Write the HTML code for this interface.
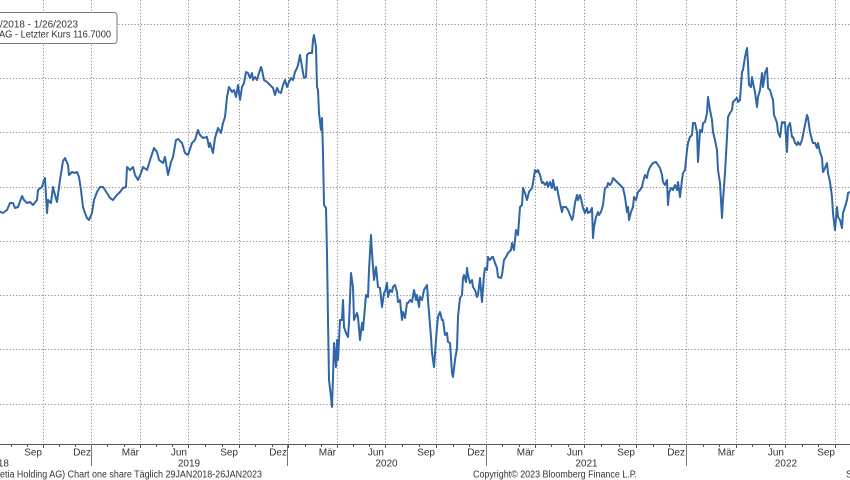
<!DOCTYPE html>
<html>
<head>
<meta charset="utf-8">
<style>
  html,body{margin:0;padding:0;background:#fff;}
  svg{display:block;}
  text{font-family:"Liberation Sans","DejaVu Sans",sans-serif;fill:#333;}
</style>
</head>
<body>
<svg width="850" height="480" viewBox="0 0 850 480" xmlns="http://www.w3.org/2000/svg">
  <rect x="0" y="0" width="850" height="480" fill="#fff"/>
  <g stroke="#8a8a8a" stroke-width="1" stroke-dasharray="1.2,2" fill="none">
    <path d="M0 24.5H850M0 78.5H850M0 132.5H850M0 187.5H850M0 241.5H850M0 295.5H850M0 349.5H850M0 404.5H850"/>
    <path d="M43.5 0V444M91.5 0V444M140.5 0V444M188.5 0V444M239.5 0V444M288.5 0V444M337.5 0V444M385.5 0V444M436.5 0V444M486.5 0V444M535.5 0V444M584.5 0V444M636.5 0V444M686.5 0V444M736.5 0V444M785.5 0V444M835.5 0V444"/>
  </g>

  <polyline fill="none" stroke="#2f66a5" stroke-width="2" stroke-linejoin="round" stroke-linecap="round" points="-2,212 0,211.7 3,213 7,210 10,203 13,203 15,208 18,207 22,196 24,200 27,203 30,202 33,205 37,200 38,190 42,187 44,180 45,178 47,213 48,200 51,203 53,187 55,195 57,202 60,180 63,161 65,158 68,165 69,175 72,172 75,173 77,172 79,177 81,190 83,207 85,213 87,218 89,220 92,213 94,200 97,192 100,187 103,187 107,193 110,198 113,200 116,196 120,192 123,188 126,187 127,167 130,170 133,167 135,175 138,180 141,173 143,167 147,170 151,157 154,148 157,152 159,160 163,163 165,157 168,175 171,162 173,157 176,140 178,139 182,143 185,153 188,155 192,143 195,140 198,130 200,135 203,138 207,137 209,147 210,143 213,153 215,138 218,128 221,133 223,123 225,117 227,97 229,87 232,92 234,90 236,97 238,85 240,100 242,87 244,83 246,72 248,73 250,78 252,73 253,80 255,77 257,80 259,73 261,67 262,70 264,80 267,82 270,85 273,88 275,95 277,88 279,92 281,93 283,85 285,80 287,87 289,82 291,78 293,80 295,72 297,68 298,65 300,55 302,67 304,78 306,77 307,55 309,53 312,53 313,40 314,35 316,47 317,87 318,90 319,113 321,130 322,118 323,153 324,205 326,208 327,253 328,320 329,380 331,397 332,407 333,377 334,343 336,367 337,340 338,360 340,320 342,320 343,300 344,327 346,333 348,337 349,323 351,273 353,287 354,320 357,313 358,317 360,340 362,323 363,330 366,295 368,297 369,270 371,235 372,253 374,280 376,267 378,287 380,288 382,307 384,293 385,292 387,283 388,297 390,290 392,292 393,287 395,285 397,292 398,302 400,300 402,320 403,312 405,318 407,303 408,303 410,300 412,302 414,290 416,300 417,295 419,307 420,297 422,300 424,290 427,285 428,300 431,337 432,353 434,367 436,340 437,327 438,317 440,312 442,320 443,320 445,335 447,333 448,342 450,343 452,373 453,377 455,360 457,348 458,317 460,298 462,295 463,278 464,275 466,282 467,268 468,275 470,283 472,280 473,287 475,290 477,297 478,295 480,278 482,302 484,275 485,268 487,270 488,257 490,260 492,257 493,257 495,263 497,268 498,277 501,278 502,275 504,260 506,257 508,253 511,250 512,243 514,250 516,230 518,235 520,207 522,205 523,188 525,193 527,200 529,192 532,188 533,183 535,170 537,172 538,170 540,175 542,183 543,182 545,185 547,182 548,187 550,182 552,188 553,180 555,190 557,187 558,193 560,203 562,212 563,207 566,207 568,210 570,215 572,220 573,217 575,203 577,195 578,200 580,195 582,203 583,208 585,213 587,208 588,213 590,212 592,208 593,238 594,227 596,217 598,212 599,215 601,212 603,205 605,188 607,187 608,183 610,185 612,182 613,178 615,180 617,182 620,185 623,188 625,197 627,212 628,207 629,220 631,212 633,207 634,197 636,200 638,192 640,190 642,187 643,182 645,175 647,178 648,172 650,167 653,163 656,162 658,165 660,168 662,175 663,182 665,185 667,180 668,205 669,193 671,188 673,190 675,185 677,190 678,182 680,197 682,180 683,173 685,170 687,150 688,143 690,137 692,135 693,123 695,123 697,132 698,162 700,130 702,132 703,123 705,122 707,113 708,97 710,110 712,120 713,132 715,140 717,150 718,170 720,183 722,218 723,200 725,173 727,137 728,117 730,113 732,110 733,102 735,100 737,98 738,102 740,100 742,72 743,70 745,57 747,48 748,63 749,85 751,87 752,77 753,83 755,92 757,107 758,97 760,90 762,73 763,87 765,73 767,68 768,88 770,90 772,97 773,100 774,115 776,120 777,123 778,132 780,137 782,122 783,123 785,122 787,152 788,127 790,123 792,137 793,137 795,143 797,145 798,142 800,145 802,140 803,135 805,125 807,115 808,118 810,132 812,140 813,143 815,143 817,148 818,143 820,152 822,158 823,172 825,168 827,163 828,173 830,182 832,197 833,213 834,222 835,230 837,207 838,217 840,220 842,228 843,213 845,207 847,200 848,193 850,192"/>

  <rect x="-5" y="12.5" width="122" height="31" rx="3" ry="3" fill="#fff" stroke="#7a7a7a" stroke-width="1"/>
  <text x="0" y="27.5" font-size="10" textLength="78" lengthAdjust="spacingAndGlyphs">/2018 - 1/26/2023</text>
  <text x="-1" y="37.5" font-size="10" textLength="112" lengthAdjust="spacingAndGlyphs">AG - Letzter Kurs 116.7000</text>

  <line x1="0" y1="444.5" x2="850" y2="444.5" stroke="#555" stroke-width="1"/>
  <path stroke="#555" stroke-width="1" fill="none" d="M11.5 444V447M27.5 444V447M43.5 444V448M59.5 444V447M75.5 444V447M91.5 444V448M107.5 444V447M124.5 444V447M140.5 444V448M156.5 444V447M172.5 444V447M188.5 444V448M205.5 444V447M222.5 444V447M239.5 444V448M255.5 444V447M272.5 444V447M288.5 444V448M305.5 444V447M321.5 444V447M337.5 444V448M353.5 444V447M369.5 444V447M385.5 444V448M402.5 444V447M419.5 444V447M436.5 444V448M453.5 444V447M469.5 444V447M486.5 444V448M502.5 444V447M519.5 444V447M535.5 444V448M551.5 444V447M568.5 444V447M584.5 444V448M601.5 444V447M619.5 444V447M636.5 444V448M653.5 444V447M669.5 444V447M686.5 444V448M703.5 444V447M719.5 444V447M736.5 444V448M752.5 444V447M769.5 444V447M785.5 444V448M802.5 444V447M818.5 444V447M835.5 444V448"/>
  <path stroke="#777" stroke-width="1" fill="none" d="M91.5 444V466M287.5 444V466M486.5 444V466M686.5 444V466"/>

  <g font-size="10" text-anchor="end">
    <text x="42" y="455.5">Sep</text>
    <text x="91" y="455.5">Dez</text>
    <text x="139" y="455.5">Mär</text>
    <text x="187" y="455.5">Jun</text>
    <text x="238" y="455.5">Sep</text>
    <text x="287" y="455.5">Dez</text>
    <text x="336" y="455.5">Mär</text>
    <text x="384" y="455.5">Jun</text>
    <text x="435" y="455.5">Sep</text>
    <text x="485" y="455.5">Dez</text>
    <text x="534" y="455.5">Mär</text>
    <text x="583" y="455.5">Jun</text>
    <text x="635" y="455.5">Sep</text>
    <text x="685" y="455.5">Dez</text>
    <text x="735" y="455.5">Mär</text>
    <text x="784" y="455.5">Jun</text>
    <text x="835" y="455.5">Sep</text>
  </g>
  <g font-size="10" text-anchor="middle">
    <text x="189" y="466.5">2019</text>
    <text x="386.5" y="466.5">2020</text>
    <text x="586.5" y="466.5">2021</text>
    <text x="786" y="466.5">2022</text>
  </g>
  <text x="9" y="466.5" font-size="10" text-anchor="end">18</text>

  <text x="0" y="477.5" font-size="10" textLength="262" lengthAdjust="spacingAndGlyphs">etia Holding AG) Chart one share  Täglich 29JAN2018-26JAN2023</text>
  <text x="473" y="477.5" font-size="10" textLength="164" lengthAdjust="spacingAndGlyphs">Copyright© 2023 Bloomberg Finance L.P.</text>
  <text x="846" y="477.5" font-size="10">S</text>
</svg>
</body>
</html>
